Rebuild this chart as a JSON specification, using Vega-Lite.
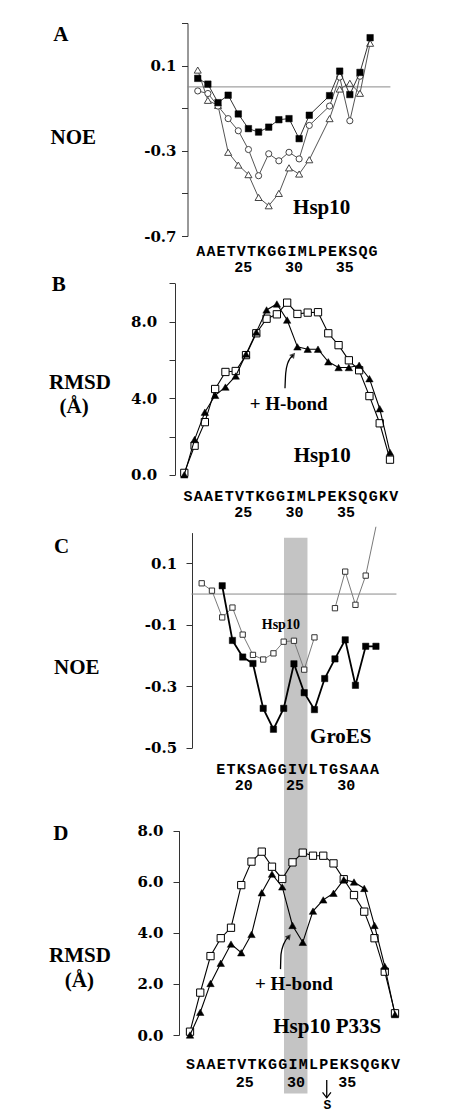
{
  "$schema": "https://vega.github.io/schema/vega-lite/v6.json",
  "width": 450,
  "height": 1114,
  "autosize": "none",
  "padding": 0,
  "background": "white",
  "config": {
    "view": {"stroke": null},
    "axis": {
      "grid": false,
      "labelFont": "DejaVu Serif",
      "labelFontWeight": "bold",
      "labelFontSize": 15,
      "labelColor": "black",
      "labelFlush": false,
      "domainColor": "#333",
      "tickColor": "#333",
      "tickSize": 6,
      "titleFont": "Liberation Serif",
      "titleFontWeight": "bold",
      "titleFontSize": 21,
      "titleColor": "black",
      "titleAngle": 0,
      "titleAlign": "left",
      "titleBaseline": "alphabetic"
    },
    "text": {"font": "Liberation Serif", "fontWeight": "bold", "color": "black"}
  },
  "datasets": {
    "hsp": [
      {"res": 20, "aa": "S"}, {"res": 21, "aa": "A"}, {"res": 22, "aa": "A"}, {"res": 23, "aa": "E"},
      {"res": 24, "aa": "T"}, {"res": 25, "aa": "V"}, {"res": 26, "aa": "T"}, {"res": 27, "aa": "K"},
      {"res": 28, "aa": "G"}, {"res": 29, "aa": "G"}, {"res": 30, "aa": "I"}, {"res": 31, "aa": "M"},
      {"res": 32, "aa": "L"}, {"res": 33, "aa": "P"}, {"res": 34, "aa": "E"}, {"res": 35, "aa": "K"},
      {"res": 36, "aa": "S"}, {"res": 37, "aa": "Q"}, {"res": 38, "aa": "G"}, {"res": 39, "aa": "K"},
      {"res": 40, "aa": "V"}
    ],
    "groes": [
      {"res": 18, "aa": "E"}, {"res": 19, "aa": "T"}, {"res": 20, "aa": "K"}, {"res": 21, "aa": "S"},
      {"res": 22, "aa": "A"}, {"res": 23, "aa": "G"}, {"res": 24, "aa": "G"}, {"res": 25, "aa": "I"},
      {"res": 26, "aa": "V"}, {"res": 27, "aa": "L"}, {"res": 28, "aa": "T"}, {"res": 29, "aa": "G"},
      {"res": 30, "aa": "S"}, {"res": 31, "aa": "A"}, {"res": 32, "aa": "A"}, {"res": 33, "aa": "A"}
    ],
    "a": [
      {"res": 21, "s": "tr", "v": 0.079}, {"res": 22, "s": "tr", "v": -0.063}, {"res": 23, "s": "tr", "v": -0.087},
      {"res": 24, "s": "tr", "v": -0.307}, {"res": 25, "s": "tr", "v": -0.367}, {"res": 26, "s": "tr", "v": -0.412},
      {"res": 27, "s": "tr", "v": -0.519}, {"res": 28, "s": "tr", "v": -0.558}, {"res": 29, "s": "tr", "v": -0.5},
      {"res": 30, "s": "tr", "v": -0.38}, {"res": 31, "s": "tr", "v": -0.409}, {"res": 32, "s": "tr", "v": -0.342},
      {"res": 34, "s": "tr", "v": -0.149}, {"res": 35, "s": "tr", "v": -0.01}, {"res": 36, "s": "tr", "v": 0.017},
      {"res": 37, "s": "tr", "v": -0.03}, {"res": 38, "s": "tr", "v": 0.205},
      {"res": 21, "s": "ci", "v": -0.019}, {"res": 22, "s": "ci", "v": -0.031}, {"res": 23, "s": "ci", "v": -0.09},
      {"res": 24, "s": "ci", "v": -0.149}, {"res": 25, "s": "ci", "v": -0.206}, {"res": 26, "s": "ci", "v": -0.294},
      {"res": 27, "s": "ci", "v": -0.417}, {"res": 28, "s": "ci", "v": -0.314}, {"res": 29, "s": "ci", "v": -0.347},
      {"res": 30, "s": "ci", "v": -0.307}, {"res": 31, "s": "ci", "v": -0.338}, {"res": 32, "s": "ci", "v": -0.181},
      {"res": 34, "s": "ci", "v": -0.09}, {"res": 35, "s": "ci", "v": 0.046}, {"res": 36, "s": "ci", "v": -0.159},
      {"res": 37, "s": "ci", "v": 0.05},
      {"res": 21, "s": "sq", "v": 0.04}, {"res": 22, "s": "sq", "v": 0.013}, {"res": 23, "s": "sq", "v": -0.074},
      {"res": 24, "s": "sq", "v": -0.039}, {"res": 25, "s": "sq", "v": -0.127}, {"res": 26, "s": "sq", "v": -0.196},
      {"res": 27, "s": "sq", "v": -0.212}, {"res": 28, "s": "sq", "v": -0.189}, {"res": 29, "s": "sq", "v": -0.154},
      {"res": 30, "s": "sq", "v": -0.149}, {"res": 31, "s": "sq", "v": -0.243}, {"res": 32, "s": "sq", "v": -0.133},
      {"res": 34, "s": "sq", "v": -0.041}, {"res": 35, "s": "sq", "v": 0.074}, {"res": 36, "s": "sq", "v": -0.036},
      {"res": 37, "s": "sq", "v": 0.068}, {"res": 38, "s": "sq", "v": 0.231}
    ],
    "b": [
      {"res": 20, "s": "sq", "v": 0.1}, {"res": 21, "s": "sq", "v": 1.52}, {"res": 22, "s": "sq", "v": 2.75},
      {"res": 23, "s": "sq", "v": 4.48}, {"res": 24, "s": "sq", "v": 5.37}, {"res": 25, "s": "sq", "v": 5.42},
      {"res": 26, "s": "sq", "v": 6.25}, {"res": 27, "s": "sq", "v": 7.39}, {"res": 28, "s": "sq", "v": 8.15},
      {"res": 29, "s": "sq", "v": 8.38}, {"res": 30, "s": "sq", "v": 8.99}, {"res": 31, "s": "sq", "v": 8.4},
      {"res": 32, "s": "sq", "v": 8.47}, {"res": 33, "s": "sq", "v": 8.49}, {"res": 34, "s": "sq", "v": 7.39},
      {"res": 35, "s": "sq", "v": 6.77}, {"res": 36, "s": "sq", "v": 5.98}, {"res": 37, "s": "sq", "v": 5.46},
      {"res": 38, "s": "sq", "v": 4.11}, {"res": 39, "s": "sq", "v": 2.69}, {"res": 40, "s": "sq", "v": 0.79},
      {"res": 20, "s": "tr", "v": 0.0}, {"res": 21, "s": "tr", "v": 1.84}, {"res": 22, "s": "tr", "v": 3.27},
      {"res": 23, "s": "tr", "v": 4.15}, {"res": 24, "s": "tr", "v": 4.58}, {"res": 25, "s": "tr", "v": 5.16},
      {"res": 26, "s": "tr", "v": 6.3}, {"res": 27, "s": "tr", "v": 7.45}, {"res": 28, "s": "tr", "v": 8.61},
      {"res": 29, "s": "tr", "v": 8.92}, {"res": 30, "s": "tr", "v": 8.08}, {"res": 31, "s": "tr", "v": 6.68},
      {"res": 32, "s": "tr", "v": 6.56}, {"res": 33, "s": "tr", "v": 6.56}, {"res": 34, "s": "tr", "v": 5.9},
      {"res": 35, "s": "tr", "v": 5.6}, {"res": 36, "s": "tr", "v": 5.6}, {"res": 37, "s": "tr", "v": 5.72},
      {"res": 38, "s": "tr", "v": 5.02}, {"res": 39, "s": "tr", "v": 3.45}, {"res": 40, "s": "tr", "v": 1.17}
    ],
    "c": [
      {"res": 16, "s": "hsp", "seg": 1, "v": 0.035}, {"res": 17, "s": "hsp", "seg": 1, "v": 0.011},
      {"res": 18, "s": "hsp", "seg": 1, "v": -0.076}, {"res": 19, "s": "hsp", "seg": 1, "v": -0.044},
      {"res": 20, "s": "hsp", "seg": 1, "v": -0.132}, {"res": 21, "s": "hsp", "seg": 1, "v": -0.198},
      {"res": 22, "s": "hsp", "seg": 1, "v": -0.213}, {"res": 23, "s": "hsp", "seg": 1, "v": -0.193},
      {"res": 24, "s": "hsp", "seg": 1, "v": -0.155}, {"res": 25, "s": "hsp", "seg": 1, "v": -0.152},
      {"res": 26, "s": "hsp", "seg": 1, "v": -0.246}, {"res": 27, "s": "hsp", "seg": 1, "v": -0.141},
      {"res": 29, "s": "hsp", "seg": 2, "v": -0.046}, {"res": 30, "s": "hsp", "seg": 2, "v": 0.073},
      {"res": 31, "s": "hsp", "seg": 2, "v": -0.035}, {"res": 32, "s": "hsp", "seg": 2, "v": 0.06},
      {"res": 33, "s": "hsp", "seg": 2, "v": 0.219},
      {"res": 18, "s": "groes", "seg": 3, "v": 0.027}, {"res": 19, "s": "groes", "seg": 3, "v": -0.151},
      {"res": 20, "s": "groes", "seg": 3, "v": -0.205}, {"res": 21, "s": "groes", "seg": 3, "v": -0.226},
      {"res": 22, "s": "groes", "seg": 3, "v": -0.372}, {"res": 23, "s": "groes", "seg": 3, "v": -0.44},
      {"res": 24, "s": "groes", "seg": 3, "v": -0.372}, {"res": 25, "s": "groes", "seg": 3, "v": -0.227},
      {"res": 26, "s": "groes", "seg": 3, "v": -0.321}, {"res": 27, "s": "groes", "seg": 3, "v": -0.376},
      {"res": 28, "s": "groes", "seg": 3, "v": -0.275}, {"res": 29, "s": "groes", "seg": 3, "v": -0.211},
      {"res": 30, "s": "groes", "seg": 3, "v": -0.149}, {"res": 31, "s": "groes", "seg": 3, "v": -0.297},
      {"res": 32, "s": "groes", "seg": 3, "v": -0.17}, {"res": 33, "s": "groes", "seg": 3, "v": -0.17}
    ],
    "d": [
      {"res": 20, "s": "sq", "v": 0.13}, {"res": 21, "s": "sq", "v": 1.66}, {"res": 22, "s": "sq", "v": 3.09},
      {"res": 23, "s": "sq", "v": 3.79}, {"res": 24, "s": "sq", "v": 4.2}, {"res": 25, "s": "sq", "v": 5.87},
      {"res": 26, "s": "sq", "v": 6.79}, {"res": 27, "s": "sq", "v": 7.18}, {"res": 28, "s": "sq", "v": 6.59},
      {"res": 29, "s": "sq", "v": 6.11}, {"res": 30, "s": "sq", "v": 6.76}, {"res": 31, "s": "sq", "v": 7.14},
      {"res": 32, "s": "sq", "v": 7.02}, {"res": 33, "s": "sq", "v": 7.02}, {"res": 34, "s": "sq", "v": 6.72},
      {"res": 35, "s": "sq", "v": 6.1}, {"res": 36, "s": "sq", "v": 5.48}, {"res": 37, "s": "sq", "v": 4.83},
      {"res": 38, "s": "sq", "v": 3.79}, {"res": 39, "s": "sq", "v": 2.48}, {"res": 40, "s": "sq", "v": 0.85},
      {"res": 20, "s": "tr", "v": 0.0}, {"res": 21, "s": "tr", "v": 0.89}, {"res": 22, "s": "tr", "v": 2.02},
      {"res": 23, "s": "tr", "v": 2.81}, {"res": 24, "s": "tr", "v": 3.56}, {"res": 25, "s": "tr", "v": 3.22},
      {"res": 26, "s": "tr", "v": 3.94}, {"res": 27, "s": "tr", "v": 5.57}, {"res": 28, "s": "tr", "v": 6.3},
      {"res": 29, "s": "tr", "v": 5.8}, {"res": 30, "s": "tr", "v": 4.29}, {"res": 31, "s": "tr", "v": 3.63},
      {"res": 32, "s": "tr", "v": 4.85}, {"res": 33, "s": "tr", "v": 5.29}, {"res": 34, "s": "tr", "v": 5.55},
      {"res": 35, "s": "tr", "v": 6.08}, {"res": 36, "s": "tr", "v": 5.99}, {"res": 37, "s": "tr", "v": 5.74},
      {"res": 38, "s": "tr", "v": 4.29}, {"res": 39, "s": "tr", "v": 2.69}, {"res": 40, "s": "tr", "v": 0.8}
    ],
    "arrB": [
      {"x": 29.79, "y": 4.52}, {"x": 29.86, "y": 5.3}, {"x": 30.05, "y": 5.82}, {"x": 30.6, "y": 6.26}
    ],
    "arrD": [
      {"x": 28.83, "y": 2.58}, {"x": 28.88, "y": 3.17}, {"x": 29.14, "y": 3.56}, {"x": 29.66, "y": 3.86}
    ]
  },
  "layer": [
    {
      "data": {"values": [{}]},
      "mark": {"type": "rule", "color": "#8a8a8a", "strokeWidth": 1},
      "encoding": {
        "x": {"datum": 20, "type": "quantitative", "scale": {"domain": [20, 40], "range": [187.6, 390.4], "nice": false}, "axis": null},
        "x2": {"datum": 40},
        "y": {"datum": 0, "type": "quantitative", "scale": {"domain": [-0.7, 0.3], "range": [236, 23], "nice": false}, "axis": null}
      }
    },
    {
      "data": {"name": "a"},
      "transform": [{"filter": "datum.s == 'tr'"}],
      "mark": {"type": "line", "color": "#555", "strokeWidth": 1,
               "point": {"shape": "triangle-up", "size": 50, "filled": true, "fill": "white", "stroke": "#444", "strokeWidth": 1}},
      "encoding": {
        "x": {"field": "res", "type": "quantitative", "scale": {"domain": [20, 40], "range": [187.6, 390.4], "nice": false}, "axis": null},
        "y": {"field": "v", "type": "quantitative", "scale": {"domain": [-0.7, 0.3], "range": [236, 23], "nice": false},
              "axis": {"orient": "left", "offset": -187.5, "values": [-0.7, -0.5, -0.3, -0.1, 0.1, 0.3],
                       "labelExpr": "datum.value < -0.6 ? '-0.7' : (datum.value > -0.35 && datum.value < -0.25) ? '-0.3' : (datum.value > 0.05 && datum.value < 0.15) ? '0.1' : ''",
                       "labelPadding": 5.5, "title": "NOE", "titleX": -137.5, "titleY": 143.3}}
      }
    },
    {
      "data": {"name": "a"},
      "transform": [{"filter": "datum.s == 'ci'"}],
      "mark": {"type": "line", "color": "#555", "strokeWidth": 1,
               "point": {"shape": "circle", "size": 38, "filled": true, "fill": "white", "stroke": "#444", "strokeWidth": 1}},
      "encoding": {
        "x": {"field": "res", "type": "quantitative", "scale": {"domain": [20, 40], "range": [187.6, 390.4], "nice": false}, "axis": null},
        "y": {"field": "v", "type": "quantitative", "scale": {"domain": [-0.7, 0.3], "range": [236, 23], "nice": false}, "axis": null}
      }
    },
    {
      "data": {"name": "a"},
      "transform": [{"filter": "datum.s == 'sq'"}],
      "mark": {"type": "line", "color": "#333", "strokeWidth": 1,
               "point": {"shape": "square", "size": 42, "filled": true, "fill": "black", "stroke": "black", "strokeWidth": 0.5}},
      "encoding": {
        "x": {"field": "res", "type": "quantitative", "scale": {"domain": [20, 40], "range": [187.6, 390.4], "nice": false}, "axis": null},
        "y": {"field": "v", "type": "quantitative", "scale": {"domain": [-0.7, 0.3], "range": [236, 23], "nice": false}, "axis": null}
      }
    },
    {
      "data": {"name": "hsp"},
      "transform": [{"filter": "datum.res >= 21 && datum.res <= 38"}],
      "mark": {"type": "text", "font": "Liberation Mono", "fontWeight": "bold", "fontSize": 15, "baseline": "alphabetic", "align": "center", "dx": 3},
      "encoding": {
        "x": {"field": "res", "type": "quantitative", "scale": {"domain": [20, 40], "range": [187.6, 390.4], "nice": false}, "axis": null},
        "y": {"datum": -0.794, "type": "quantitative", "scale": {"domain": [-0.7, 0.3], "range": [236, 23], "nice": false}, "axis": null},
        "text": {"field": "aa"}
      }
    },
    {
      "data": {"name": "hsp"},
      "transform": [{"filter": "datum.res == 25 || datum.res == 30 || datum.res == 35"}],
      "mark": {"type": "text", "font": "Liberation Mono", "fontWeight": "bold", "fontSize": 15, "baseline": "alphabetic", "align": "center", "dx": 5},
      "encoding": {
        "x": {"field": "res", "type": "quantitative", "scale": {"domain": [20, 40], "range": [187.6, 390.4], "nice": false}, "axis": null},
        "y": {"datum": -0.868, "type": "quantitative", "scale": {"domain": [-0.7, 0.3], "range": [236, 23], "nice": false}, "axis": null},
        "text": {"field": "res", "type": "nominal"}
      }
    },
    {
      "data": {"values": [{}]},
      "mark": {"type": "text", "text": "Hsp10", "fontSize": 21, "baseline": "alphabetic", "align": "center"},
      "encoding": {
        "x": {"datum": 33.22, "type": "quantitative", "scale": {"domain": [20, 40], "range": [187.6, 390.4], "nice": false}, "axis": null},
        "y": {"datum": -0.597, "type": "quantitative", "scale": {"domain": [-0.7, 0.3], "range": [236, 23], "nice": false}, "axis": null}
      }
    },
    {
      "data": {"values": [{}]},
      "mark": {"type": "text", "text": "A", "fontSize": 21, "baseline": "alphabetic", "align": "left"},
      "encoding": {
        "x": {"datum": 6.755, "type": "quantitative", "scale": {"domain": [20, 40], "range": [187.6, 390.4], "nice": false}, "axis": null},
        "y": {"datum": 0.217, "type": "quantitative", "scale": {"domain": [-0.7, 0.3], "range": [236, 23], "nice": false}, "axis": null}
      }
    },
    {
      "data": {"name": "b"},
      "transform": [{"filter": "datum.s == 'sq'"}],
      "mark": {"type": "line", "color": "black", "strokeWidth": 1.1,
               "point": {"shape": "square", "size": 53, "filled": true, "fill": "white", "stroke": "black", "strokeWidth": 1}},
      "encoding": {
        "x": {"field": "res", "type": "quantitative", "scale": {"domain": [20, 40], "range": [184.3, 390], "nice": false}, "axis": null},
        "y": {"field": "v", "type": "quantitative", "scale": {"domain": [0, 10], "range": [474.8, 283.3], "nice": false},
              "axis": {"orient": "left", "offset": -175, "values": [0, 2, 4, 6, 8, 10],
                       "labelExpr": "datum.value == 0 ? '0.0' : datum.value == 4 ? '4.0' : datum.value == 8 ? '8.0' : ''",
                       "labelPadding": 12.3, "title": ["RMSD", "\u200b\u00a0\u00a0(Å)"], "titleX": -126.5, "titleY": 388.3, "titleLineHeight": 24.4}}
      }
    },
    {
      "data": {"name": "b"},
      "transform": [{"filter": "datum.s == 'tr'"}],
      "mark": {"type": "line", "color": "black", "strokeWidth": 1.1,
               "point": {"shape": "triangle-up", "size": 55, "filled": true, "fill": "black", "stroke": "black", "strokeWidth": 0.5}},
      "encoding": {
        "x": {"field": "res", "type": "quantitative", "scale": {"domain": [20, 40], "range": [184.3, 390], "nice": false}, "axis": null},
        "y": {"field": "v", "type": "quantitative", "scale": {"domain": [0, 10], "range": [474.8, 283.3], "nice": false}, "axis": null}
      }
    },
    {
      "data": {"name": "arrB"},
      "mark": {"type": "line", "color": "black", "strokeWidth": 1.3, "interpolate": "monotone"},
      "encoding": {
        "x": {"field": "x", "type": "quantitative", "scale": {"domain": [20, 40], "range": [184.3, 390], "nice": false}, "axis": null},
        "y": {"field": "y", "type": "quantitative", "scale": {"domain": [0, 10], "range": [474.8, 283.3], "nice": false}, "axis": null}
      }
    },
    {
      "data": {"name": "arrB"},
      "transform": [{"filter": "datum.y > 6"}],
      "mark": {"type": "point", "shape": "triangle-up", "size": 40, "filled": true, "color": "black", "angle": 40},
      "encoding": {
        "x": {"field": "x", "type": "quantitative", "scale": {"domain": [20, 40], "range": [184.3, 390], "nice": false}, "axis": null},
        "y": {"field": "y", "type": "quantitative", "scale": {"domain": [0, 10], "range": [474.8, 283.3], "nice": false}, "axis": null}
      }
    },
    {
      "data": {"name": "hsp"},
      "mark": {"type": "text", "font": "Liberation Mono", "fontWeight": "bold", "fontSize": 15, "baseline": "alphabetic", "align": "center", "dx": 3.7},
      "encoding": {
        "x": {"field": "res", "type": "quantitative", "scale": {"domain": [20, 40], "range": [184.3, 390], "nice": false}, "axis": null},
        "y": {"datum": -1.37, "type": "quantitative", "scale": {"domain": [0, 10], "range": [474.8, 283.3], "nice": false}, "axis": null},
        "text": {"field": "aa"}
      }
    },
    {
      "data": {"name": "hsp"},
      "transform": [{"filter": "datum.res == 25 || datum.res == 30 || datum.res == 35"}],
      "mark": {"type": "text", "font": "Liberation Mono", "fontWeight": "bold", "fontSize": 15, "baseline": "alphabetic", "align": "center", "dx": 7.4},
      "encoding": {
        "x": {"field": "res", "type": "quantitative", "scale": {"domain": [20, 40], "range": [184.3, 390], "nice": false}, "axis": null},
        "y": {"datum": -2.19, "type": "quantitative", "scale": {"domain": [0, 10], "range": [474.8, 283.3], "nice": false}, "axis": null},
        "text": {"field": "res", "type": "nominal"}
      }
    },
    {
      "data": {"values": [{}]},
      "mark": {"type": "text", "text": "+ H-bond", "fontSize": 19, "baseline": "alphabetic", "align": "center"},
      "encoding": {
        "x": {"datum": 30.15, "type": "quantitative", "scale": {"domain": [20, 40], "range": [184.3, 390], "nice": false}, "axis": null},
        "y": {"datum": 3.38, "type": "quantitative", "scale": {"domain": [0, 10], "range": [474.8, 283.3], "nice": false}, "axis": null}
      }
    },
    {
      "data": {"values": [{}]},
      "mark": {"type": "text", "text": "Hsp10", "fontSize": 21, "baseline": "alphabetic", "align": "center"},
      "encoding": {
        "x": {"datum": 33.41, "type": "quantitative", "scale": {"domain": [20, 40], "range": [184.3, 390], "nice": false}, "axis": null},
        "y": {"datum": 0.68, "type": "quantitative", "scale": {"domain": [0, 10], "range": [474.8, 283.3], "nice": false}, "axis": null}
      }
    },
    {
      "data": {"values": [{}]},
      "mark": {"type": "text", "text": "B", "fontSize": 21, "baseline": "alphabetic", "align": "left"},
      "encoding": {
        "x": {"datum": 7.107, "type": "quantitative", "scale": {"domain": [20, 40], "range": [184.3, 390], "nice": false}, "axis": null},
        "y": {"datum": 9.614, "type": "quantitative", "scale": {"domain": [0, 10], "range": [474.8, 283.3], "nice": false}, "axis": null}
      }
    },
    {
      "data": {"values": [{}]},
      "mark": {"type": "rect", "color": "#c4c4c4"},
      "encoding": {
        "x": {"datum": 24.03, "type": "quantitative", "scale": {"domain": [15, 35], "range": [191.45, 396.45], "nice": false}, "axis": null},
        "x2": {"datum": 26.32},
        "y": {"datum": 0.183, "type": "quantitative", "scale": {"domain": [-0.5, 0.2], "range": [747.7, 532.6], "nice": false}, "axis": null},
        "y2": {"datum": -1.625}
      }
    },
    {
      "data": {"values": [{}]},
      "mark": {"type": "rule", "color": "#8a8a8a", "strokeWidth": 1},
      "encoding": {
        "x": {"datum": 15, "type": "quantitative", "scale": {"domain": [15, 35], "range": [191.45, 396.45], "nice": false}, "axis": null},
        "x2": {"datum": 35},
        "y": {"datum": 0, "type": "quantitative", "scale": {"domain": [-0.5, 0.2], "range": [747.7, 532.6], "nice": false}, "axis": null}
      }
    },
    {
      "data": {"name": "c"},
      "transform": [{"filter": "datum.s == 'hsp'"}],
      "mark": {"type": "line", "color": "#7a7a7a", "strokeWidth": 1},
      "encoding": {
        "x": {"field": "res", "type": "quantitative", "scale": {"domain": [15, 35], "range": [191.45, 396.45], "nice": false}, "axis": null},
        "y": {"field": "v", "type": "quantitative", "scale": {"domain": [-0.5, 0.2], "range": [747.7, 532.6], "nice": false},
              "axis": {"orient": "left", "offset": -192, "values": [-0.5, -0.3, -0.1, 0.1],
                       "labelExpr": "datum.value < -0.4 ? '-0.5' : datum.value < -0.2 ? '-0.3' : datum.value < 0 ? '-0.1' : '0.1'",
                       "labelPadding": 9.3, "title": "NOE", "titleX": -138.5, "titleY": 673.3}},
        "detail": {"field": "seg", "type": "nominal"}
      }
    },
    {
      "data": {"name": "c"},
      "transform": [{"filter": "datum.s == 'hsp' && datum.v < 0.2"}],
      "mark": {"type": "point", "shape": "square", "size": 28, "filled": true, "fill": "white", "stroke": "#333", "strokeWidth": 1, "opacity": 1},
      "encoding": {
        "x": {"field": "res", "type": "quantitative", "scale": {"domain": [15, 35], "range": [191.45, 396.45], "nice": false}, "axis": null},
        "y": {"field": "v", "type": "quantitative", "scale": {"domain": [-0.5, 0.2], "range": [747.7, 532.6], "nice": false}, "axis": null}
      }
    },
    {
      "data": {"name": "c"},
      "transform": [{"filter": "datum.s == 'groes'"}],
      "mark": {"type": "line", "color": "black", "strokeWidth": 1.8,
               "point": {"shape": "square", "size": 40, "filled": true, "fill": "black", "stroke": "black", "strokeWidth": 0.5}},
      "encoding": {
        "x": {"field": "res", "type": "quantitative", "scale": {"domain": [15, 35], "range": [191.45, 396.45], "nice": false}, "axis": null},
        "y": {"field": "v", "type": "quantitative", "scale": {"domain": [-0.5, 0.2], "range": [747.7, 532.6], "nice": false}, "axis": null}
      }
    },
    {
      "data": {"name": "groes"},
      "mark": {"type": "text", "font": "Liberation Mono", "fontWeight": "bold", "fontSize": 15, "baseline": "alphabetic", "align": "center", "dx": -1.4},
      "encoding": {
        "x": {"field": "res", "type": "quantitative", "scale": {"domain": [15, 35], "range": [191.45, 396.45], "nice": false}, "axis": null},
        "y": {"datum": -0.586, "type": "quantitative", "scale": {"domain": [-0.5, 0.2], "range": [747.7, 532.6], "nice": false}, "axis": null},
        "text": {"field": "aa"}
      }
    },
    {
      "data": {"name": "groes"},
      "transform": [{"filter": "datum.res == 20 || datum.res == 25 || datum.res == 30"}],
      "mark": {"type": "text", "font": "Liberation Mono", "fontWeight": "bold", "fontSize": 15, "baseline": "alphabetic", "align": "center", "dx": 1},
      "encoding": {
        "x": {"field": "res", "type": "quantitative", "scale": {"domain": [15, 35], "range": [191.45, 396.45], "nice": false}, "axis": null},
        "y": {"datum": -0.638, "type": "quantitative", "scale": {"domain": [-0.5, 0.2], "range": [747.7, 532.6], "nice": false}, "axis": null},
        "text": {"field": "res", "type": "nominal"}
      }
    },
    {
      "data": {"values": [{}]},
      "mark": {"type": "text", "text": "Hsp10", "fontSize": 14, "baseline": "alphabetic", "align": "center"},
      "encoding": {
        "x": {"datum": 23.72, "type": "quantitative", "scale": {"domain": [15, 35], "range": [191.45, 396.45], "nice": false}, "axis": null},
        "y": {"datum": -0.115, "type": "quantitative", "scale": {"domain": [-0.5, 0.2], "range": [747.7, 532.6], "nice": false}, "axis": null}
      }
    },
    {
      "data": {"values": [{}]},
      "mark": {"type": "text", "text": "GroES", "fontSize": 21, "baseline": "alphabetic", "align": "center"},
      "encoding": {
        "x": {"datum": 29.57, "type": "quantitative", "scale": {"domain": [15, 35], "range": [191.45, 396.45], "nice": false}, "axis": null},
        "y": {"datum": -0.484, "type": "quantitative", "scale": {"domain": [-0.5, 0.2], "range": [747.7, 532.6], "nice": false}, "axis": null}
      }
    },
    {
      "data": {"values": [{}]},
      "mark": {"type": "text", "text": "C", "fontSize": 21, "baseline": "alphabetic", "align": "left"},
      "encoding": {
        "x": {"datum": 1.59, "type": "quantitative", "scale": {"domain": [15, 35], "range": [191.45, 396.45], "nice": false}, "axis": null},
        "y": {"datum": 0.1336, "type": "quantitative", "scale": {"domain": [-0.5, 0.2], "range": [747.7, 532.6], "nice": false}, "axis": null}
      }
    },
    {
      "data": {"name": "d"},
      "transform": [{"filter": "datum.s == 'sq'"}],
      "mark": {"type": "line", "color": "black", "strokeWidth": 1.1,
               "point": {"shape": "square", "size": 53, "filled": true, "fill": "white", "stroke": "black", "strokeWidth": 1}},
      "encoding": {
        "x": {"field": "res", "type": "quantitative", "scale": {"domain": [20, 40], "range": [190, 395], "nice": false}, "axis": null},
        "y": {"field": "v", "type": "quantitative", "scale": {"domain": [0, 8], "range": [1035, 830.7], "nice": false},
              "axis": {"orient": "left", "offset": -179, "values": [0, 2, 4, 6, 8],
                       "labelExpr": "format(datum.value, '.1f')",
                       "labelPadding": 10, "title": ["RMSD", "\u200b\u00a0\u00a0\u00a0(Å)"], "titleX": -130.5, "titleY": 961.7, "titleLineHeight": 24.35}}
      }
    },
    {
      "data": {"name": "d"},
      "transform": [{"filter": "datum.s == 'tr'"}],
      "mark": {"type": "line", "color": "black", "strokeWidth": 1.1,
               "point": {"shape": "triangle-up", "size": 55, "filled": true, "fill": "black", "stroke": "black", "strokeWidth": 0.5}},
      "encoding": {
        "x": {"field": "res", "type": "quantitative", "scale": {"domain": [20, 40], "range": [190, 395], "nice": false}, "axis": null},
        "y": {"field": "v", "type": "quantitative", "scale": {"domain": [0, 8], "range": [1035, 830.7], "nice": false}, "axis": null}
      }
    },
    {
      "data": {"name": "arrD"},
      "mark": {"type": "line", "color": "black", "strokeWidth": 1.3, "interpolate": "monotone"},
      "encoding": {
        "x": {"field": "x", "type": "quantitative", "scale": {"domain": [20, 40], "range": [190, 395], "nice": false}, "axis": null},
        "y": {"field": "y", "type": "quantitative", "scale": {"domain": [0, 8], "range": [1035, 830.7], "nice": false}, "axis": null}
      }
    },
    {
      "data": {"name": "arrD"},
      "transform": [{"filter": "datum.y > 3.7"}],
      "mark": {"type": "point", "shape": "triangle-up", "size": 40, "filled": true, "color": "black", "angle": 40},
      "encoding": {
        "x": {"field": "x", "type": "quantitative", "scale": {"domain": [20, 40], "range": [190, 395], "nice": false}, "axis": null},
        "y": {"field": "y", "type": "quantitative", "scale": {"domain": [0, 8], "range": [1035, 830.7], "nice": false}, "axis": null}
      }
    },
    {
      "data": {"name": "hsp"},
      "mark": {"type": "text", "font": "Liberation Mono", "fontWeight": "bold", "fontSize": 15, "baseline": "alphabetic", "align": "center", "dx": 0.5},
      "encoding": {
        "x": {"field": "res", "type": "quantitative", "scale": {"domain": [20, 40], "range": [190, 395], "nice": false}, "axis": null},
        "y": {"datum": -1.35, "type": "quantitative", "scale": {"domain": [0, 8], "range": [1035, 830.7], "nice": false}, "axis": null},
        "text": {"field": "aa"}
      }
    },
    {
      "data": {"name": "hsp"},
      "transform": [{"filter": "datum.res == 25 || datum.res == 30 || datum.res == 35"}],
      "mark": {"type": "text", "font": "Liberation Mono", "fontWeight": "bold", "fontSize": 15, "baseline": "alphabetic", "align": "center", "dx": 3.4},
      "encoding": {
        "x": {"field": "res", "type": "quantitative", "scale": {"domain": [20, 40], "range": [190, 395], "nice": false}, "axis": null},
        "y": {"datum": -2.04, "type": "quantitative", "scale": {"domain": [0, 8], "range": [1035, 830.7], "nice": false}, "axis": null},
        "text": {"field": "res", "type": "nominal"}
      }
    },
    {
      "data": {"values": [{}]},
      "mark": {"type": "rule", "color": "black", "strokeWidth": 1.3},
      "encoding": {
        "x": {"datum": 33.34, "type": "quantitative", "scale": {"domain": [20, 40], "range": [190, 395], "nice": false}, "axis": null},
        "y": {"datum": -1.76, "type": "quantitative", "scale": {"domain": [0, 8], "range": [1035, 830.7], "nice": false}, "axis": null},
        "y2": {"datum": -2.46}
      }
    },
    {
      "data": {"values": [{}]},
      "mark": {"type": "point", "shape": "M-1,-0.7L0,0.6L1,-0.7", "size": 70, "filled": false, "stroke": "black", "strokeWidth": 1.3, "opacity": 1},
      "encoding": {
        "x": {"datum": 33.34, "type": "quantitative", "scale": {"domain": [20, 40], "range": [190, 395], "nice": false}, "axis": null},
        "y": {"datum": -2.36, "type": "quantitative", "scale": {"domain": [0, 8], "range": [1035, 830.7], "nice": false}, "axis": null}
      }
    },
    {
      "data": {"values": [{}]},
      "mark": {"type": "text", "text": "S", "font": "Liberation Mono", "fontWeight": "bold", "fontSize": 13, "baseline": "alphabetic", "align": "center"},
      "encoding": {
        "x": {"datum": 33.4, "type": "quantitative", "scale": {"domain": [20, 40], "range": [190, 395], "nice": false}, "axis": null},
        "y": {"datum": -2.9, "type": "quantitative", "scale": {"domain": [0, 8], "range": [1035, 830.7], "nice": false}, "axis": null}
      }
    },
    {
      "data": {"values": [{}]},
      "mark": {"type": "text", "text": "+ H-bond", "fontSize": 19, "baseline": "alphabetic", "align": "center"},
      "encoding": {
        "x": {"datum": 30.13, "type": "quantitative", "scale": {"domain": [20, 40], "range": [190, 395], "nice": false}, "axis": null},
        "y": {"datum": 1.76, "type": "quantitative", "scale": {"domain": [0, 8], "range": [1035, 830.7], "nice": false}, "axis": null}
      }
    },
    {
      "data": {"values": [{}]},
      "mark": {"type": "text", "text": "Hsp10 P33S", "fontSize": 21, "baseline": "alphabetic", "align": "center"},
      "encoding": {
        "x": {"datum": 33.39, "type": "quantitative", "scale": {"domain": [20, 40], "range": [190, 395], "nice": false}, "axis": null},
        "y": {"datum": 0.07, "type": "quantitative", "scale": {"domain": [0, 8], "range": [1035, 830.7], "nice": false}, "axis": null}
      }
    },
    {
      "data": {"values": [{}]},
      "mark": {"type": "text", "text": "D", "fontSize": 21, "baseline": "alphabetic", "align": "left"},
      "encoding": {
        "x": {"datum": 6.663, "type": "quantitative", "scale": {"domain": [20, 40], "range": [190, 395], "nice": false}, "axis": null},
        "y": {"datum": 7.635, "type": "quantitative", "scale": {"domain": [0, 8], "range": [1035, 830.7], "nice": false}, "axis": null}
      }
    }
  ],
  "resolve": {
    "scale": {"x": "independent", "y": "independent"},
    "axis": {"x": "independent", "y": "independent"}
  }
}
